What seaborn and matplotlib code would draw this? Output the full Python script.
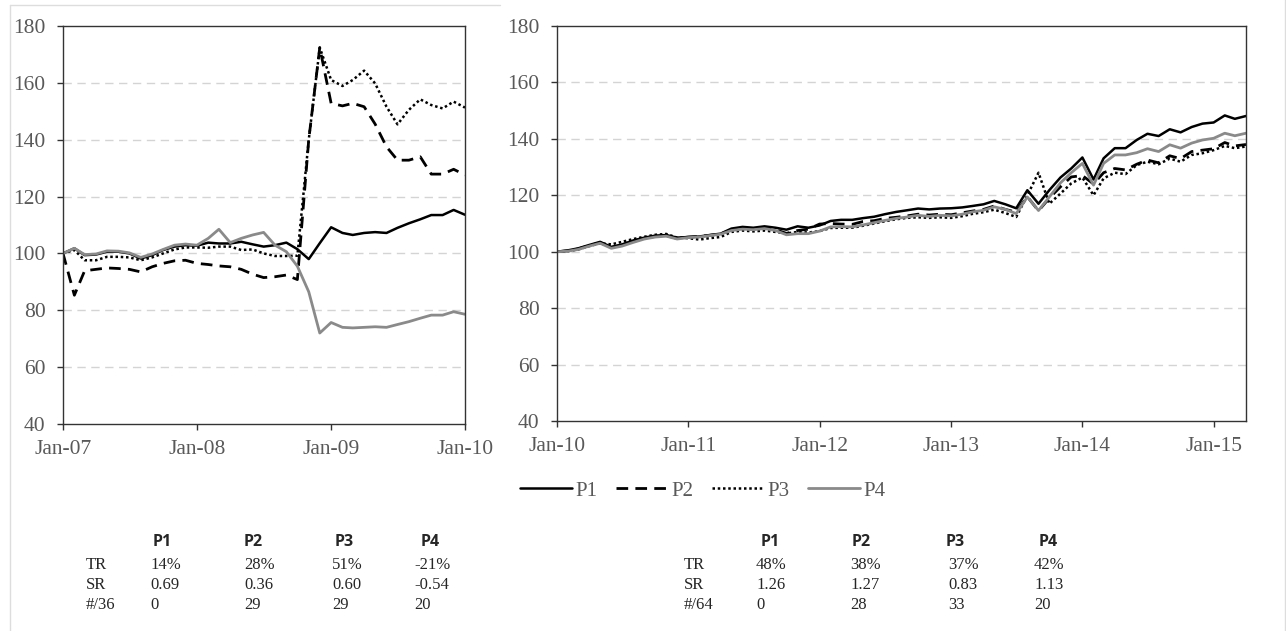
import pandas as pd
import matplotlib.pyplot as plt
import matplotlib.dates as mdates
from matplotlib.lines import Line2D
import seaborn as sns

# ---- data ----
left_dates = pd.date_range("2007-01-01", periods=37, freq="MS")
right_dates = pd.date_range("2010-01-01", periods=64, freq="MS")

left_p1 = [100, 101.8, 99.4, 99.6, 100.6, 100.6, 100, 98.2, 99.4, 101.2, 102.4, 102.9,
           102.7, 103.8, 103.5, 103.5, 104.1, 103.2, 102.4, 102.9, 103.8, 101.5, 98, 103.6,
           109.2, 107.2, 106.5, 107.2, 107.5, 107.2, 109, 110.6, 112, 113.5, 113.5, 115.3, 113.6]
left_p2 = [100, 85.3, 93.9, 94.4, 94.9, 94.7, 94.4, 93.5, 95.3, 96.5, 97.4, 97.6,
           96.5, 96.1, 95.6, 95.3, 94.4, 92.7, 91.5, 91.8, 92.4, 90.8, 140, 172.4,
           152.8, 151.9, 152.8, 151.6, 145.5, 137.5, 132.8, 132.8, 134, 127.9, 127.9, 129.6, 127.6]
left_p3 = [100, 101.2, 97.6, 97.6, 98.8, 98.8, 98.6, 97.6, 98.6, 100, 101.4, 102.1,
           102.1, 102, 102.4, 102.4, 101.2, 101.4, 100, 99.1, 99.1, 99.2, 140, 172.4,
           161, 158.9, 161, 164.3, 159.8, 151.6, 145.4, 150.5, 154.2, 152.2, 151, 153.4, 151.3]
left_p4 = [100, 101.8, 99.6, 99.8, 100.9, 100.8, 100.2, 98.6, 99.8, 101.4, 102.9, 103.3,
           102.9, 105.3, 108.5, 103.8, 105.3, 106.5, 107.4, 102.9, 100.6, 95.5, 86.5, 72,
           75.7, 74, 73.8, 74, 74.2, 74, 75, 76, 77.2, 78.3, 78.3, 79.5, 78.6]

right_p1 = [100, 100.5, 101.2, 102.4, 103.5, 101.7, 102.6, 104, 105, 105.7, 105.9, 105,
            105.2, 105.4, 105.9, 106.4, 108.2, 108.8, 108.5, 109, 108.5, 107.8, 109, 108.5,
            109.3, 110.9, 111.3, 111.3, 111.9, 112.4, 113.3, 114.1, 114.7, 115.3, 115, 115.3,
            115.4, 115.7, 116.2, 116.8, 118, 116.8, 115.4, 121.8, 117, 121.8, 126.3, 129.5,
            133.4, 125.6, 133.1, 136.7, 136.7, 139.6, 141.8, 141, 143.4, 142.3, 144.2, 145.4,
            145.8, 148.3, 147.1, 148.1]
right_p2 = [100, 100.3, 101, 102.2, 103.2, 101.5, 102.3, 103.6, 104.8, 105.4, 105.7, 104.7,
            105.2, 105.4, 105.8, 106.3, 107.8, 108.3, 108, 108.4, 107.8, 106.5, 107.5, 108,
            109.8, 110, 109.8, 109.7, 110.7, 111, 111.8, 112.2, 112.7, 113.3, 113, 113.3,
            113.1, 113.8, 114.4, 115, 116.2, 115, 114, 119.5, 114.5, 119, 123, 126.5,
            127, 124, 128, 129.5, 129, 131, 132.5, 131.5, 134, 133, 135.5, 136,
            136.5, 138.7, 137.5, 138]
right_p3 = [100, 100.2, 100.8, 102, 103, 102.6, 103.5, 104.5, 105.3, 106, 106.3, 105,
            104.8, 104.3, 104.8, 105.2, 107, 107.5, 107.2, 107.5, 107, 106.5, 107, 106.8,
            107.3, 108.4, 108.5, 108.5, 109.2, 110, 110.8, 111.5, 112, 112.2, 112, 112.2,
            112, 112.6, 113.4, 114, 114.9, 113.7, 112.3, 120, 128, 117, 120.6, 124.2,
            126.3, 120, 126, 128, 127.5, 130.7, 131.9, 131, 133, 131.9, 134.3, 134.9,
            136, 137.5, 136.7, 137.3]
right_p4 = [100, 100.2, 100.8, 102, 103, 101.2, 102, 103.3, 104.5, 105.2, 105.5, 104.5,
            105, 105.2, 105.7, 106.2, 107.5, 108, 107.8, 108.2, 107.5, 106, 106.4, 106.4,
            107.3, 108.8, 108.9, 108.8, 109.5, 110.3, 111.1, 111.8, 112.3, 112.9, 112.5, 112.9,
            112.7, 113.3, 114.1, 114.7, 115.9, 115, 113.5, 119.4, 114.6, 119.4, 124.4, 128,
            131.3, 123.6, 131.3, 134.3, 134.3, 135.1, 136.5, 135.5, 137.9, 136.7, 138.5, 139.6,
            140.2, 142, 141.1, 142]

series_names = ["P1", "P2", "P3", "P4"]
row_labels_left = ["TR", "SR", "#/36"]
row_labels_right = ["TR", "SR", "#/64"]
table_left = [["14%", "28%", "51%", "-21%"],
              ["0.69", "0.36", "0.60", "-0.54"],
              ["0", "29", "29", "20"]]
table_right = [["48%", "38%", "37%", "42%"],
               ["1.26", "1.27", "0.83", "1.13"],
               ["0", "28", "33", "20"]]

# ---- styling ----
sns.set_theme(style="white")
plt.rcParams["font.family"] = ["Liberation Serif", "DejaVu Serif"]

W, H = 1286, 631
styles = {
    "P1": dict(color="black", linewidth=1.8, linestyle="-"),
    "P2": dict(color="black", linewidth=2.0, linestyle=(0, (4.2, 2.6))),
    "P3": dict(color="black", linewidth=1.8, linestyle=(0, (1, 1.1))),
    "P4": dict(color="#8a8a8a", linewidth=2.0, linestyle="-"),
}
tick_grey = "#595959"

fig = plt.figure(figsize=(W / 100, H / 100), dpi=100)
ax_l = fig.add_axes([63 / W, 1 - 424 / H, 402 / W, 398 / H])
ax_r = fig.add_axes([557 / W, 1 - 421 / H, 689 / W, 395 / H])


def draw(ax, dates, series, xlim):
    for name, vals in zip(series_names, series):
        sns.lineplot(x=dates, y=vals, ax=ax, label=name, **styles[name])
    ax.set_xlim(pd.Timestamp(xlim[0]), pd.Timestamp(xlim[1]))
    ax.set_ylim(40, 180)
    ax.set_yticks(range(40, 181, 20))
    ax.xaxis.set_major_locator(mdates.YearLocator())
    ax.xaxis.set_major_formatter(mdates.DateFormatter("%b-%y"))
    for v in range(60, 161, 20):
        ax.axhline(v, color="#d4d4d4", linewidth=1.0, linestyle=(0, (6, 4)), zorder=0)
    for sp in ax.spines.values():
        sp.set_visible(True)
        sp.set_color("#333333")
        sp.set_linewidth(1.0)
    ax.tick_params(axis="y", direction="out", length=4.5, width=1, color="#333333",
                   pad=8, labelsize=15.5, labelcolor=tick_grey, left=True)
    ax.tick_params(axis="x", direction="out", length=4.5, width=1, color="#333333",
                   pad=7, labelsize=15.5, labelcolor=tick_grey, bottom=True)
    ax.set_xlabel("")
    ax.set_ylabel("")
    ax.grid(False)
    ax.legend_.remove()


draw(ax_l, left_dates, [left_p1, left_p2, left_p3, left_p4], ("2007-01-01", "2010-01-01"))
draw(ax_r, right_dates, [right_p1, right_p2, right_p3, right_p4], ("2010-01-01", "2015-04-01"))

handles = [Line2D([], [], **styles[n]) for n in series_names]
leg = fig.legend(handles, series_names, loc="center", bbox_to_anchor=(703 / W, 1 - 491 / H),
                 ncol=4, frameon=False, fontsize=15, handlelength=2.5, handletextpad=0.15,
                 columnspacing=0.9)
for t in leg.get_texts():
    t.set_color(tick_grey)

# ---- summary tables ----
def table(label_x, head_x, val_x, labels, rows):
    for hx, name in zip(head_x, series_names):
        fig.text(hx / W, 1 - 542 / H, name, ha="center", va="center", fontsize=11.5,
                 fontweight="bold", family=["Open Sans", "DejaVu Sans"])
    for r, (lab, row) in enumerate(zip(labels, rows)):
        y = 1 - (565 + 20 * r) / H
        fig.text(label_x / W, y, lab, ha="left", va="center", fontsize=12)
        for vx, val in zip(val_x, row):
            fig.text(vx / W, y, val, ha="left", va="center", fontsize=12)


table(86, [162, 253, 344, 430], [150, 244, 332, 414], row_labels_left, table_left)
table(684, [770, 861, 955, 1048], [756, 850, 948, 1034], row_labels_right, table_right)

# light frame around the picture
frame = dict(color="#dddddd", linewidth=1.0)
fig.add_artist(Line2D([10 / W, 10 / W], [0, 1 - 5 / H], **frame))
fig.add_artist(Line2D([10 / W, 500 / W], [1 - 5 / H, 1 - 5 / H], **frame))
fig.add_artist(Line2D([1284.5 / W, 1284.5 / W], [0, 1], **frame))

fig.savefig("out.png", dpi=100)
